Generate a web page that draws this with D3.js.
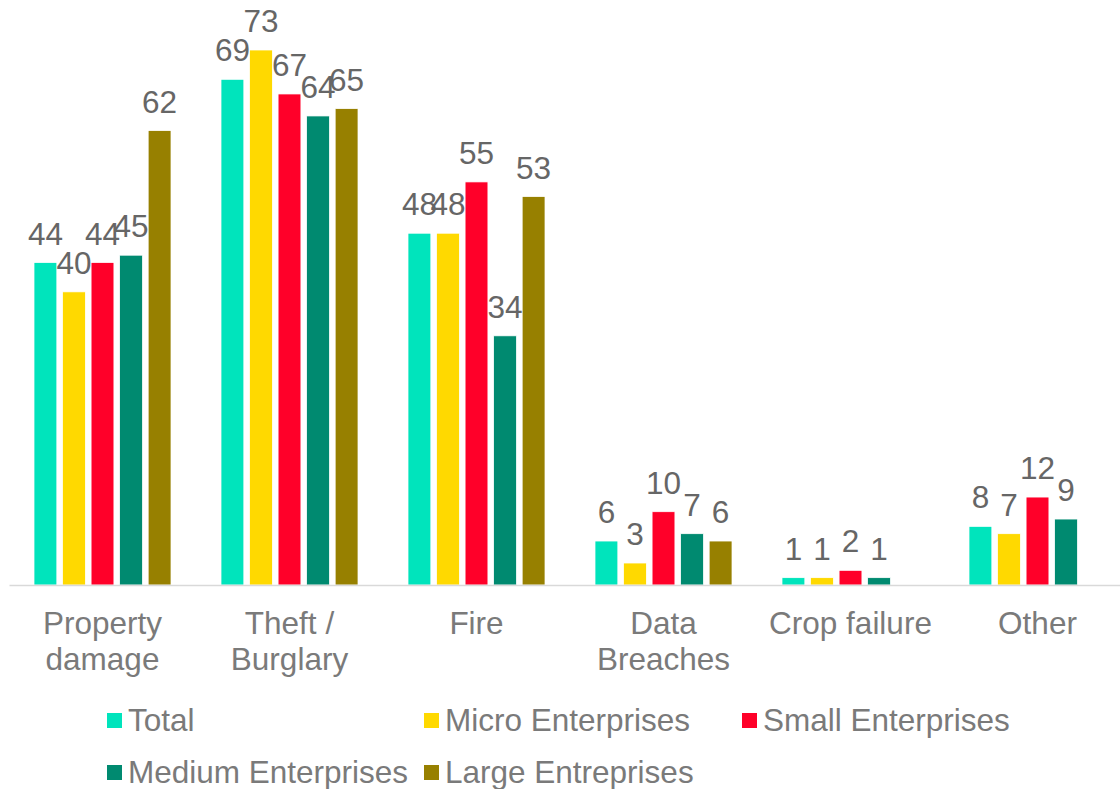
<!DOCTYPE html>
<html>
<head>
<meta charset="utf-8">
<script src="https://cdn.jsdelivr.net/npm/d3@7"></script>
<style>
  html, body { margin: 0; padding: 0; background: #fff; }
  svg { display: block; font-family: "Liberation Sans", Arial, sans-serif; }
</style>
</head>
<body>
<svg id="chart" width="1120" height="789"></svg>
<script>
const categories = ["Property damage", "Theft / Burglary", "Fire", "Data Breaches", "Crop failure", "Other"];
const seriesNames = ["Total", "Micro Enterprises", "Small Enterprises", "Medium Enterprises", "Large Entreprises"];
const seriesColors = ["#00E4BC", "#FFD900", "#FF0029", "#008A70", "#978000"];
const totalValues  = [44, 69, 48, 6, 1, 8];
const microValues  = [40, 73, 48, 3, 1, 7];
const smallValues  = [44, 67, 55, 10, 2, 12];
const mediumValues = [45, 64, 34, 7, 1, 9];
const largeValues  = [62, 65, 53, 6, null, null];

const seriesValues = [totalValues, microValues, smallValues, mediumValues, largeValues];

const svg = d3.select("#chart");
const baseY = 585, topY = 50;
const FS = 31.5;

const x0 = d3.scaleBand().domain(categories).range([9, 1131]).padding(0);
const x1 = d3.scaleBand().domain(seriesNames).range([25, 162]).paddingInner(0.2).paddingOuter(0);
const maxV = d3.max(seriesValues.flat().filter(v => v != null));
const y = d3.scaleLinear().domain([0, maxV]).range([baseY, topY]);

const data = [];
categories.forEach((c, ci) => {
  seriesNames.forEach((s, si) => {
    const v = seriesValues[si][ci];
    if (v != null) data.push({cat: c, series: s, color: seriesColors[si], value: v});
  });
});

const g = svg.append("g");

// bars
g.selectAll("rect.bar").data(data).enter().append("rect")
  .attr("class", "bar")
  .attr("x", d => x0(d.cat) + x1(d.series))
  .attr("y", d => y(d.value))
  .attr("width", x1.bandwidth())
  .attr("height", d => baseY - y(d.value))
  .attr("fill", d => d.color)
  .attr("stroke", "#ffffff")
  .attr("stroke-width", 0.75);

// axis line
const xAxis = d3.axisBottom(x0).tickSize(0).tickFormat("");
const ax = svg.append("g").attr("transform", `translate(0,${baseY})`).call(xAxis);
ax.select(".domain").attr("stroke", "#d9d9d9").attr("stroke-width", 1.5);

// value labels
g.selectAll("text.val").data(data).enter().append("text")
  .attr("class", "val")
  .attr("x", d => x0(d.cat) + x1(d.series) + x1.bandwidth() / 2)
  .attr("y", d => y(d.value) - 18)
  .attr("text-anchor", "middle")
  .attr("font-size", FS)
  .attr("fill", "#666666")
  .text(d => d.value);

// category labels with wrapping
const catG = svg.append("g");
categories.forEach(c => {
  const words = c.split(" ");
  const lines = [];
  let line = "";
  const tmp = catG.append("text").attr("font-size", FS);
  words.forEach(w => {
    const test = line ? line + " " + w : w;
    tmp.text(test);
    if (tmp.node().getComputedTextLength() > 180 && line) {
      lines.push(line);
      line = w;
    } else {
      line = test;
    }
  });
  if (line) lines.push(line);
  tmp.remove();
  const t = catG.append("text")
    .attr("text-anchor", "middle")
    .attr("font-size", FS)
    .attr("fill", "#7a7a7a");
  lines.forEach((l, i) => {
    t.append("tspan")
      .attr("x", x0(c) + x0.bandwidth() / 2)
      .attr("y", 634 + i * 36)
      .text(l);
  });
});

// legend
const legend = svg.append("g");
const colX = [107, 424, 742];
seriesNames.forEach((s, i) => {
  const row = Math.floor(i / 3), col = i % 3;
  const lg = legend.append("g").attr("transform", `translate(${colX[col]},${720 + row * 52})`);
  lg.append("rect").attr("x", 0).attr("y", -7).attr("width", 15).attr("height", 15).attr("fill", seriesColors[i]);
  lg.append("text").attr("x", 21).attr("y", 11).attr("font-size", FS).attr("fill", "#7a7a7a").text(s);
});
</script>
</body>
</html>
